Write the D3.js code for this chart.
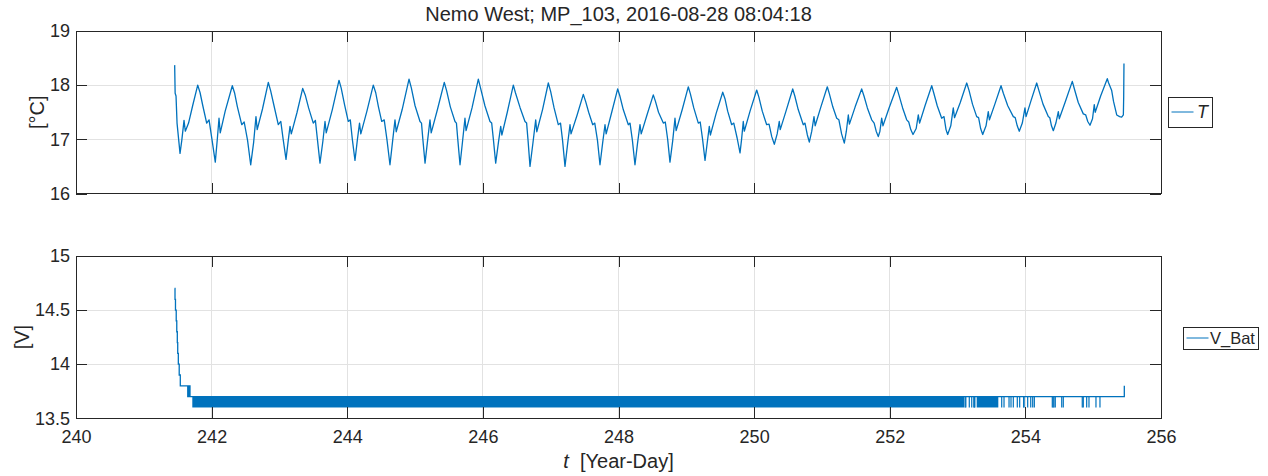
<!DOCTYPE html>
<html>
<head>
<meta charset="utf-8">
<script src="https://cdn.jsdelivr.net/npm/d3@7"></script>
<style>
  body { margin: 0; background: #fff; }
  svg text { font-family: "Liberation Sans", Arial, Helvetica, sans-serif; fill: #262626; }
  .tick text { font-size: 18px; }
</style>
</head>
<body>
<svg id="chart" width="1268" height="476"></svg>
<script>
// ---- data -------------------------------------------------------------
const titleText = "Nemo West; MP_103, 2016-08-28 08:04:18";
const dayTicks = [240, 242, 244, 246, 248, 250, 252, 254, 256];
const tempTicks = [16, 17, 18, 19];
const voltTicks = [13.5, 14, 14.5, 15];

// water temperature [day of year, °C]
const tempSeries = [
  [241.455, 18.37], [241.462, 17.85], [241.475, 17.80], [241.490, 17.30], [241.534, 16.74], [241.560, 16.98],
  [241.593, 17.35], [241.612, 17.15], [241.660, 17.30], [241.720, 17.62], [241.795, 18.00],
  [241.830, 17.86], [241.870, 17.62], [241.927, 17.30], [241.962, 17.36], [242.005, 17.00], [242.054, 16.58],
  [242.085, 17.02], [242.109, 17.39], [242.127, 17.12], [242.200, 17.52], [242.305, 17.99],
  [242.340, 17.85], [242.380, 17.60], [242.444, 17.27], [242.480, 17.32], [242.530, 16.98], [242.576, 16.53],
  [242.620, 16.95], [242.654, 17.42], [242.672, 17.18], [242.750, 17.56], [242.836, 18.05],
  [242.870, 17.90], [242.920, 17.62], [242.983, 17.27], [243.020, 17.33], [243.055, 17.00], [243.097, 16.63],
  [243.130, 16.98], [243.156, 17.24], [243.175, 17.10], [243.260, 17.50], [243.343, 17.94],
  [243.380, 17.82], [243.430, 17.58], [243.499, 17.30], [243.530, 17.35], [243.560, 17.00], [243.598, 16.56],
  [243.640, 16.96], [243.672, 17.33], [243.690, 17.12], [243.780, 17.55], [243.878, 18.09],
  [243.910, 17.95], [243.960, 17.64], [244.015, 17.33], [244.045, 17.36], [244.075, 17.00], [244.114, 16.61],
  [244.150, 17.00], [244.181, 17.30], [244.200, 17.10], [244.290, 17.52], [244.384, 18.00],
  [244.420, 17.86], [244.460, 17.60], [244.508, 17.33], [244.545, 17.36], [244.585, 17.00], [244.630, 16.53],
  [244.670, 16.98], [244.704, 17.36], [244.722, 17.14], [244.810, 17.55], [244.911, 18.11],
  [244.945, 17.95], [245.000, 17.62], [245.073, 17.33], [245.095, 17.30], [245.115, 17.00], [245.147, 16.56],
  [245.185, 16.98], [245.220, 17.36], [245.238, 17.12], [245.330, 17.55], [245.431, 18.05],
  [245.465, 17.90], [245.520, 17.60], [245.589, 17.33], [245.610, 17.30], [245.630, 17.00], [245.663, 16.53],
  [245.700, 16.96], [245.736, 17.39], [245.752, 17.16], [245.840, 17.58], [245.933, 18.11],
  [245.965, 17.95], [246.030, 17.62], [246.105, 17.33], [246.130, 17.30], [246.155, 17.00], [246.189, 16.56],
  [246.230, 16.95], [246.263, 17.24], [246.280, 17.08], [246.360, 17.50], [246.449, 18.00],
  [246.480, 17.86], [246.550, 17.58], [246.621, 17.33], [246.645, 17.30], [246.665, 17.00], [246.695, 16.50],
  [246.740, 16.95], [246.779, 17.36], [246.795, 17.14], [246.880, 17.55], [246.965, 18.04],
  [247.000, 17.88], [247.050, 17.58], [247.112, 17.27], [247.145, 17.30], [247.175, 16.98], [247.211, 16.50],
  [247.250, 16.92], [247.285, 17.27], [247.300, 17.10], [247.390, 17.45], [247.481, 17.83],
  [247.515, 17.70], [247.560, 17.50], [247.620, 17.27], [247.650, 17.30], [247.690, 16.98], [247.727, 16.53],
  [247.765, 16.92], [247.801, 17.27], [247.818, 17.10], [247.900, 17.50], [247.988, 17.93],
  [248.020, 17.80], [248.070, 17.55], [248.145, 17.27], [248.170, 17.30], [248.205, 16.98], [248.243, 16.53],
  [248.280, 16.92], [248.317, 17.27], [248.335, 17.10], [248.420, 17.45], [248.513, 17.82],
  [248.545, 17.70], [248.590, 17.50], [248.661, 17.30], [248.690, 17.32], [248.725, 17.00], [248.759, 16.58],
  [248.800, 16.98], [248.833, 17.39], [248.850, 17.16], [248.940, 17.55], [249.029, 17.97],
  [249.060, 17.84], [249.110, 17.58], [249.177, 17.30], [249.205, 17.32], [249.240, 17.00], [249.276, 16.61],
  [249.310, 16.95], [249.339, 17.24], [249.355, 17.08], [249.440, 17.48], [249.537, 17.87],
  [249.570, 17.75], [249.610, 17.52], [249.669, 17.27], [249.700, 17.30], [249.750, 17.02], [249.792, 16.75],
  [249.815, 17.00], [249.840, 17.33], [249.855, 17.15], [249.940, 17.52], [250.038, 17.91],
  [250.070, 17.78], [250.120, 17.52], [250.185, 17.27], [250.220, 17.28], [250.260, 17.05], [250.298, 16.91],
  [250.340, 17.10], [250.371, 17.33], [250.385, 17.18], [250.470, 17.52], [250.569, 17.93],
  [250.600, 17.80], [250.650, 17.55], [250.725, 17.27], [250.750, 17.30], [250.785, 17.08], [250.814, 16.95],
  [250.850, 17.15], [250.883, 17.42], [250.900, 17.25], [250.980, 17.58], [251.079, 17.97],
  [251.110, 17.84], [251.160, 17.60], [251.218, 17.39], [251.250, 17.36], [251.290, 17.10], [251.330, 16.93],
  [251.360, 17.15], [251.389, 17.45], [251.405, 17.28], [251.490, 17.60], [251.586, 17.93],
  [251.620, 17.80], [251.670, 17.58], [251.734, 17.36], [251.770, 17.30], [251.800, 17.15], [251.831, 17.05],
  [251.855, 17.15], [251.881, 17.39], [251.900, 17.25], [251.990, 17.58], [252.102, 17.96],
  [252.135, 17.82], [252.190, 17.58], [252.250, 17.36], [252.280, 17.32], [252.310, 17.18], [252.343, 17.09],
  [252.390, 17.20], [252.421, 17.45], [252.440, 17.30], [252.520, 17.62], [252.619, 17.99],
  [252.650, 17.85], [252.700, 17.62], [252.766, 17.39], [252.800, 17.42], [252.830, 17.18], [252.854, 17.09],
  [252.900, 17.25], [252.937, 17.58], [252.955, 17.40], [253.040, 17.68], [253.135, 18.04],
  [253.170, 17.90], [253.220, 17.65], [253.282, 17.42], [253.310, 17.40], [253.340, 17.20], [253.371, 17.09],
  [253.420, 17.25], [253.453, 17.51], [253.470, 17.36], [253.550, 17.65], [253.641, 17.99],
  [253.675, 17.85], [253.740, 17.62], [253.822, 17.42], [253.850, 17.40], [253.880, 17.25], [253.910, 17.15],
  [253.955, 17.30], [253.994, 17.58], [254.010, 17.42], [254.080, 17.70], [254.167, 18.04],
  [254.200, 17.90], [254.260, 17.65], [254.338, 17.42], [254.360, 17.40], [254.385, 17.25], [254.412, 17.16],
  [254.450, 17.30], [254.486, 17.51], [254.500, 17.38], [254.590, 17.70], [254.692, 18.07],
  [254.725, 17.92], [254.780, 17.68], [254.854, 17.47], [254.890, 17.45], [254.920, 17.33], [254.953, 17.26],
  [254.990, 17.38], [255.016, 17.64], [255.030, 17.50], [255.110, 17.80], [255.208, 18.12],
  [255.225, 18.05], [255.273, 17.90], [255.300, 17.70], [255.347, 17.45], [255.390, 17.42], [255.420, 17.41],
  [255.445, 17.45], [255.450, 17.80], [255.454, 18.40]
];

// battery voltage steps [day of year, V] (held until the next entry)
const vbatSteps = [
  [241.453, 14.7], [241.460, 14.6], [241.467, 14.5], [241.478, 14.4], [241.486, 14.3], [241.494, 14.2],
  [241.500, 14.1], [241.509, 14.0], [241.522, 13.9], [241.538, 13.8], [241.648, 13.7], [241.652, 13.8],
  [241.662, 13.7], [241.666, 13.8], [241.681, 13.7], [255.458, 13.7], [255.459, 13.8]
];
// spans where the reading toggles continuously between 13.6 and 13.7 V
const vbatFlickerSpans = [[241.715, 253.099], [253.282, 253.601]];
const vbatFlickerLow = 13.6, vbatFlickerHigh = 13.7;
// isolated drops to 13.6 V
const vbatDipDays = [
  253.112, 253.122, 253.173, 253.209, 253.240, 253.247, 253.255,
  253.651, 253.685, 253.759, 253.788, 253.822, 253.881, 253.916, 253.975, 253.980,
  254.034, 254.079, 254.108, 254.132, 254.397, 254.410, 254.422, 254.441, 254.536, 254.559,
  254.839, 254.854, 254.904, 254.938, 255.041, 255.100
];

// ---- layout -----------------------------------------------------------
const svg = d3.select("#chart");
const blue = "#0072BD", ink = "#262626", gridColor = "#e2e2e2";
const x = d3.scaleLinear().domain([240, 256]).range([76, 1161]);

svg.append("rect").attr("width", 1268).attr("height", 476).attr("fill", "#fff");

svg.append("text")
  .attr("x", 618.5).attr("y", 21)
  .attr("text-anchor", "middle")
  .style("font-size", "20px")
  .text(titleText);

function panel(opts) {
  const y = d3.scaleLinear().domain(opts.domain).range([opts.bottom, opts.top]);
  const g = svg.append("g");

  // grid
  g.append("g").selectAll("line").data(dayTicks).join("line")
    .attr("x1", d => x(d)).attr("x2", d => x(d))
    .attr("y1", opts.top).attr("y2", opts.bottom)
    .attr("stroke", gridColor).attr("shape-rendering", "crispEdges");
  g.append("g").selectAll("line").data(opts.yTicks).join("line")
    .attr("x1", x(240)).attr("x2", x(256))
    .attr("y1", d => y(d)).attr("y2", d => y(d))
    .attr("stroke", gridColor).attr("shape-rendering", "crispEdges");

  // data
  const plot = g.append("g");
  opts.draw(plot, y);

  // axes with inward ticks on all four sides
  const tick = 11;
  const fmtX = opts.showXLabels ? d3.format("d") : () => "";
  const axes = [
    [d3.axisBottom(x).tickValues(dayTicks).tickFormat(fmtX).tickPadding(12), `translate(0,${opts.bottom})`],
    [d3.axisTop(x).tickValues(dayTicks).tickFormat(() => ""), `translate(0,${opts.top})`],
    [d3.axisLeft(y).tickValues(opts.yTicks).tickFormat(d3.format("")).tickPadding(6), `translate(${x(240)},0)`],
    [d3.axisRight(y).tickValues(opts.yTicks).tickFormat(() => ""), `translate(${x(256)},0)`]
  ];
  axes.forEach(([ax, tr]) => {
    const a = g.append("g").attr("transform", tr)
      .call(ax.tickSizeInner(-tick).tickSizeOuter(0));
    a.select(".domain").remove();
    a.selectAll(".tick line").attr("stroke", ink).attr("shape-rendering", "crispEdges");
    a.selectAll(".tick text").style("fill", ink);
  });

  // box
  g.append("rect")
    .attr("x", x(240)).attr("y", opts.top)
    .attr("width", x(256) - x(240)).attr("height", opts.bottom - opts.top)
    .attr("fill", "none").attr("stroke", ink).attr("shape-rendering", "crispEdges");

  // y label
  g.append("text")
    .attr("transform", `translate(${opts.labelX},${(opts.top + opts.bottom) / 2}) rotate(-90)`)
    .attr("text-anchor", "middle").attr("dy", "0.35em")
    .style("font-size", "20px")
    .text(opts.yLabel);

  // legend
  const L = opts.legend;
  const lg = svg.append("g");
  lg.append("rect").attr("x", L.x).attr("y", L.y).attr("width", L.w).attr("height", L.h)
    .attr("fill", "#fff").attr("stroke", ink).attr("shape-rendering", "crispEdges");
  lg.append("line")
    .attr("x1", L.x + 3.5).attr("x2", L.x + 25.5)
    .attr("y1", L.y + L.h / 2).attr("y2", L.y + L.h / 2)
    .attr("stroke", blue).attr("stroke-width", 1);
  lg.append("text")
    .attr("x", L.x + L.textDx).attr("y", L.y + L.h / 2).attr("dy", "0.35em")
    .style("font-size", L.size + "px").style("font-style", L.italic ? "italic" : "normal")
    .text(L.label);
}

// temperature panel
panel({
  top: 31, bottom: 193.5, domain: [16, 19], yTicks: tempTicks, yLabel: "[°C]", labelX: 36.5,
  showXLabels: false,
  legend: { x: 1168, y: 97, w: 44, h: 30, label: "T", italic: true, size: 18, textDx: 29 },
  draw(g, y) {
    g.append("path")
      .datum(tempSeries)
      .attr("fill", "none").attr("stroke", blue).attr("stroke-width", 1.3)
      .attr("stroke-linejoin", "round")
      .attr("d", d3.line().x(d => x(d[0])).y(d => y(d[1])));
  }
});

// battery panel
panel({
  top: 256, bottom: 418.3, domain: [13.5, 15], yTicks: voltTicks, yLabel: "[V]", labelX: 22,
  showXLabels: true,
  legend: { x: 1183, y: 327, w: 75, h: 22, label: "V_Bat", italic: false, size: 16.5, textDx: 27 },
  draw(g, y) {
    g.selectAll("rect.flicker").data(vbatFlickerSpans).join("rect")
      .attr("class", "flicker")
      .attr("x", d => x(d[0])).attr("width", d => x(d[1]) - x(d[0]))
      .attr("y", y(vbatFlickerHigh)).attr("height", y(vbatFlickerLow) - y(vbatFlickerHigh))
      .attr("fill", blue);
    g.selectAll("line.dip").data(vbatDipDays).join("line")
      .attr("class", "dip")
      .attr("x1", d => x(d)).attr("x2", d => x(d))
      .attr("y1", y(vbatFlickerHigh)).attr("y2", y(vbatFlickerLow))
      .attr("stroke", blue).attr("stroke-width", 1.2);
    g.append("path")
      .datum(vbatSteps)
      .attr("fill", "none").attr("stroke", blue).attr("stroke-width", 1.3)
      .attr("d", d3.line().curve(d3.curveStepAfter).x(d => x(d[0])).y(d => y(d[1])));
  }
});

// x axis label
const xl = svg.append("text")
  .attr("x", 618.5).attr("y", 468)
  .attr("text-anchor", "middle")
  .style("font-size", "20px");
xl.append("tspan").style("font-style", "italic").text("t");
xl.append("tspan").attr("xml:space", "preserve").text("\u00a0\u00a0[Year-Day]");
</script>
</body>
</html>
